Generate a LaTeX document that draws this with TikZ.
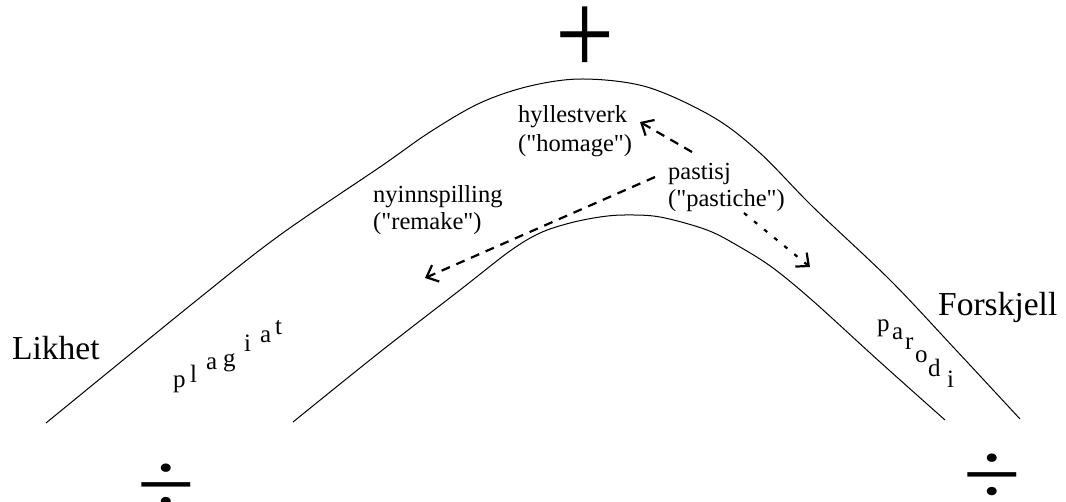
\documentclass[tikz,border=0pt]{standalone}
\usepackage{fontspec}
\setmainfont{Liberation Serif}
\usetikzlibrary{arrows.meta}
\begin{document}
\begin{tikzpicture}[x=1pt,y=-1pt,
  curve/.style={line width=1pt,line join=round},
  lbl/.style={anchor=base west,inner sep=0pt,font=\fontsize{24.5}{28}\selectfont},
  big/.style={anchor=base west,inner sep=0pt,font=\fontsize{33.5}{38}\selectfont},
  let/.style={anchor=base west,inner sep=0pt,font=\fontsize{25}{28}\selectfont},
  sym/.style={anchor=base,inner sep=0pt,font=\fontsize{105}{105}\selectfont},
  tipv/.style={-{Straight Barb[length=10pt,width=18pt,line width=2.2pt]}},
  dasharrow/.style={line width=2.2pt,dash pattern=on 9pt off 7pt,tipv},
  dotarrow/.style={line width=2.2pt,dash pattern=on 4pt off 9pt,tipv}]
\useasboundingbox (0,0) rectangle (1066,502);
% curves
\draw[curve] plot[smooth,tension=0.55] coordinates {(46,423) (197,300) (280,235) (380,167) (430,132) (480,103) (530,86) (583,79) (647,87) (713,117) (760,153) (813,207) (890,280) (955,349) (1020,419)};
\draw[curve] plot[smooth,tension=0.55] coordinates {(293,422) (380,352) (460,290) (510,251) (540,233) (570,223) (600,217) (625,215) (660,217) (707,230) (740,247) (773,268) (813,301) (880,362) (945,420)};
% symbols
\node[sym] (plus) at (585,75) {\scalebox{1}[1.14]{+}};
\node[sym] (divl) at (166.5,514) {\scalebox{1}[0.85]{÷}};
\node[sym] (divr) at (992,504) {\scalebox{1}[0.85]{÷}};
% big labels
\node[big] (likhet) at (12,360) {Likhet};
\node[big] (forskjell) at (938,316) {Forskjell};
% labels
\node[lbl] (hyl1) at (518,123) {hyllestverk};
\node[lbl] (hyl2) at (518,152) {(\textquotedbl homage\textquotedbl)};
\node[lbl] (pas1) at (668,180) {pastisj};
\node[lbl] (pas2) at (668,207) {(\textquotedbl pastiche\textquotedbl)};
\node[lbl] (nyi1) at (373,203) {nyinnspilling};
\node[lbl] (nyi2) at (373,230) {(\textquotedbl remake\textquotedbl)};
% plagiat
\node[let] (pl1) at (173,388) {p};
\node[let] (pl2) at (190,383) {l};
\node[let] (pl3) at (206,370) {a};
\node[let] (pl4) at (223,367) {g};
\node[let] (pl5) at (244,352) {i};
\node[let] (pl6) at (260,343) {a};
\node[let] (pl7) at (275,335) {t};
% parodi
\node[let] (pa1) at (877,332) {p};
\node[let] (pa2) at (892,340) {a};
\node[let] (pa3) at (905,350) {r};
\node[let] (pa4) at (915,363) {o};
\node[let] (pa5) at (928,377) {d};
\node[let] (pa6) at (947,388) {i};
% arrows
\coordinate (a1s) at (692,152);
\coordinate (a1e) at (640,122);
\coordinate (a2s) at (655,177);
\coordinate (a2e) at (425,278);
\coordinate (a3s) at (744,213);
\coordinate (a3e) at (810,267);
\draw[dasharrow] (a1s) -- (a1e);
\draw[dasharrow] (a2s) -- (a2e);
\draw[dotarrow] (a3s) -- (a3e);
\end{tikzpicture}
\end{document}
